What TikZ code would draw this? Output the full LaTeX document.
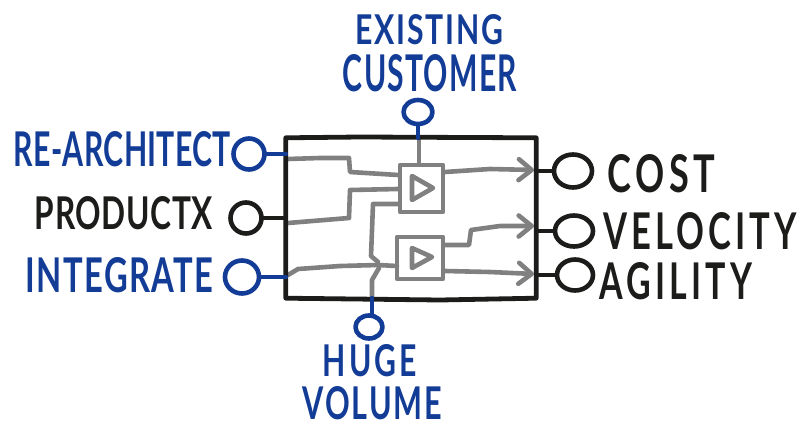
\documentclass[tikz,border=0pt]{standalone}
\usepackage{fontspec}
\setmainfont{Lato}
\usetikzlibrary{arrows.meta,shapes.geometric}
\definecolor{inkblue}{HTML}{123C96}
\definecolor{inkblack}{HTML}{1C1C1A}
\definecolor{inkgray}{HTML}{808080}
\newcommand{\fitlabel}[4]{\resizebox{#1pt}{#2pt}{\bfseries\addfontfeatures{LetterSpace=#3}#4}}
\tikzset{
  x=1pt,y=-1pt,
  every path/.style={line cap=round,line join=round},
  term/.style={ellipse,draw,line width=4.6pt,inner sep=0pt,fill=none},
  lbl/.style={inner sep=0pt,anchor=center},
  wire/.style={draw=inkgray,line width=4.6pt},
  lead/.style={line width=4.6pt},
  gate/.style={rectangle,draw=inkgray,line width=4.6pt,inner sep=0pt},
  tri/.style={draw=inkgray,line width=4.6pt},
  arr/.style={wire,-{Straight Barb[round,length=13pt,width=21pt]}},
  blue/.style={color=inkblue},
  blk/.style={color=inkblack}
}
\begin{document}
\begin{tikzpicture}
\useasboundingbox (0,0) rectangle (802,428);
% box and gates
\node[rectangle,inner sep=0pt,minimum width=250pt,minimum height=160pt] (box) at (411,218) {};
\node[gate,minimum width=43pt,minimum height=47pt] (g1) at (421.5,188.5) {};
\node[gate,minimum width=46pt,minimum height=42pt] (g2) at (420,258) {};
\draw[tri] (412,176) -- (433,188) -- (412,200) -- cycle;
\draw[tri] (412,248) -- (432,257) -- (412,268) -- cycle;
% wire coordinates
\coordinate (a1) at (288,159);
\coordinate (a2) at (288,223);
\coordinate (a3) at (288,275);
\coordinate (b1) at (398,175);
\coordinate (b2) at (398,189);
\coordinate (b3) at (398,204);
\coordinate (b4) at (397,266);
\coordinate (ctl1) at (419,139);
\coordinate (ctl2) at (372,297);
\coordinate (o1) at (445,172);
\coordinate (o2) at (445,245);
\coordinate (o3) at (445,271);
\coordinate (e1) at (534,170);
\coordinate (e2) at (534,226);
\coordinate (e3) at (534,274);
% gray wires
\draw[wire] (a1) -- (320,158) -- (349,158) -- (350,172) -- (b1);
\draw[wire] (a2) -- (349,218) -- (350,190) -- (b2);
\draw[wire] (a3) -- (298,269) -- (340,266) -- (378,265) -- (b4);
\draw[wire] (b3) -- (373,204) -- (371,256) -- (378,262);
\draw[wire] (ctl2) -- (372,280) -- (379,268);
\draw[wire] (ctl1) -- (g1.north -| ctl1);
\draw[arr] (o1) -- (490,169) -- (e1);
\draw[arr] (o2) -- (469,245) -- (471,230) -- (500,226) -- (e2);
\draw[arr] (o3) -- (490,272) -- (e3);
% outer box on top
\draw[blk,line width=4.8pt] (box.north west) -- (360,137) -- (box.north east) -- (box.south east) -- (440,300) -- (box.south west) -- cycle;
% terminals
\node[term,blue,minimum width=31pt,minimum height=31pt] (t1) at (249,154) {};
\node[term,blk,minimum width=31pt,minimum height=31pt] (t2) at (246,218) {};
\node[term,blue,minimum width=34pt,minimum height=33pt] (t3) at (242,277) {};
\node[term,blk,minimum width=38pt,minimum height=33pt] (t4) at (573,171) {};
\node[term,blk,minimum width=38pt,minimum height=31pt] (t5) at (574,231) {};
\node[term,blk,minimum width=36pt,minimum height=31pt] (t6) at (575,275) {};
\node[term,blue,minimum width=29pt,minimum height=24pt] (t7) at (418,112) {};
\node[term,blue,minimum width=27pt,minimum height=23pt] (t8) at (369,327) {};
% leads
\draw[lead,blue] (t1.east) -- (box.west |- t1.east);
\draw[lead,blk] (t2.east) -- (box.west |- t2.east);
\draw[lead,blue] (t3.east) -- (box.west |- t3.east);
\draw[lead,blk] (t4.west) -- (box.east |- t4.west);
\draw[lead,blk] (t5.west) -- (box.east |- t5.west);
\draw[lead,blk] (t6.west) -- (box.east |- t6.west);
\draw[lead,blue] (t7.south) -- (box.north -| t7.south);
\draw[lead,blue] (t8.north -| ctl2) -- (box.south -| ctl2);
% labels
\node[lbl,color=inkblue] (l1) at (122.5,149.5) {\fitlabel{217}{35}{1}{RE-ARCHITECT}};
\node[lbl,color=inkblack] (l2) at (124,213.5) {\fitlabel{178}{33}{2}{PRODUCTX}};
\node[lbl,color=inkblue] (l3) at (119.5,275.5) {\fitlabel{187}{35}{4}{INTEGRATE}};
\node[lbl,color=inkblack] (l4) at (661.5,174) {\fitlabel{107}{38}{12}{COST}};
\node[lbl,color=inkblack] (l5) at (700,231.5) {\fitlabel{194}{37}{12}{VELOCITY}};
\node[lbl,color=inkblack] (l6) at (676,281.5) {\fitlabel{152}{37}{12}{AGILITY}};
\node[lbl,color=inkblue] (l7) at (429,30) {\fitlabel{148}{30}{6}{EXISTING}};
\node[lbl,color=inkblue] (l8) at (430,73.5) {\fitlabel{174}{37}{4}{CUSTOMER}};
\node[lbl,color=inkblue] (l9) at (370,361) {\fitlabel{94}{32}{10}{HUGE}};
\node[lbl,color=inkblue] (l10) at (372.5,403.5) {\fitlabel{139}{33}{6}{VOLUME}};
\end{tikzpicture}
\end{document}
